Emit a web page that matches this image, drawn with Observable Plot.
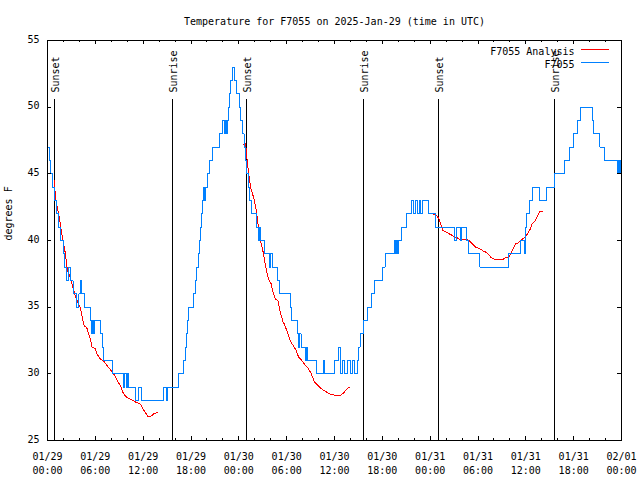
<!DOCTYPE html>
<html><head><meta charset="utf-8">
<script src="https://cdn.jsdelivr.net/npm/d3@7"></script>
<script src="https://cdn.jsdelivr.net/npm/@observablehq/plot@0.6"></script>
<style>body{margin:0;background:#fff}</style>
</head><body><div id="chart"></div>
<script>
const titleText = "Temperature for F7055 on 2025-Jan-29 (time in UTC)";
const yLabel = "degrees F";
const seriesNames = ["F7055 Analysis", "F7055"];
const seriesColors = ["#ff0000", "#0080ff"];
const startUTC = Date.UTC(2025, 0, 29);
const endHours = 72;

// Observed station temperature (hours since 01/29 00:00 UTC, °F), step changes
const blueHours = [0,0.2,0.4,0.6,0.85,1.1,1.35,1.65,1.95,2.1,2.35,2.6,2.85,3.2,3.6,3.95,4.1,4.3,4.6,5.35,5.55,5.7,5.8,5.95,6.6,6.9,7.0,8.1,9.55,9.7,9.9,10.05,10.2,11.05,11.45,11.75,14.5,14.95,15.1,16.4,17.05,17.25,17.4,17.55,17.7,18.35,18.55,18.75,18.95,19.1,19.25,19.35,19.45,19.55,19.75,19.85,20.1,20.35,20.75,21.55,22.0,22.15,22.3,22.45,22.55,22.65,22.85,23.0,23.15,23.45,23.65,24.05,24.25,24.45,24.65,24.85,25.0,25.2,25.4,25.65,26.2,26.45,26.6,26.75,27.2,27.8,27.95,28.2,28.85,29.15,30.45,30.6,31.35,31.5,31.65,31.8,32.3,32.45,32.6,33.75,34.6,34.75,35.95,36.55,36.7,36.95,37.3,37.6,37.95,38.25,38.55,38.85,39.0,39.2,39.6,40.2,40.6,41.0,42.05,42.35,43.5,43.6,43.8,43.95,44.05,44.4,45.0,45.6,45.95,46.15,46.4,46.65,46.85,47.1,47.8,48.65,51.1,51.35,51.75,51.9,52.55,52.8,54.25,57.8,59.3,59.85,59.95,60.1,60.5,60.85,61.7,62.55,63.55,64.8,65.45,65.95,66.45,66.9,68.3,68.55,69.3,69.85,71.5,71.65,71.75,71.9,72.0];
const blueTemps = [47,46,45,44,43,42,41,40,39,38,37,38,37,36,35,36,37,36,35,34,33,34,33,34,33,32,31,30,29,30,29,30,29,28,29,28,29,28,29,30,31,32,33,34,35,36,37,38,39,40,41,42,43,44,43,44,45,46,47,48,49,48,49,48,49,50,51,52,53,52,51,50,49,48,47,46,45,44,43,42,41,40,41,40,39,38,39,38,37,36,35,34,33,32,33,32,31,32,31,30,31,30,31,32,30,31,30,31,30,31,30,31,32,33,34,35,36,37,38,39,40,39,40,39,40,41,42,43,42,43,42,43,42,43,42,41,40,41,40,41,40,39,38,39,40,39,41,42,43,44,43,44,45,46,47,48,49,50,49,48,47,46,45,46,45,46,46];

// Analysis temperature (null = gap between nightly runs)
const redHours = [0.85,1.0,1.4,1.8,2.25,2.5,2.9,3.1,3.4,3.7,4.1,4.35,4.6,4.9,5.3,5.6,6.0,6.2,6.65,7.0,7.5,7.9,8.3,8.75,9.15,9.5,9.8,10.4,11.0,11.7,12.1,12.6,12.95,13.3,13.8,
  null,
  24.55,24.85,25.05,25.3,25.55,25.85,26.2,26.5,26.75,27.1,27.3,27.55,27.75,28.05,28.3,28.6,28.9,29.2,29.55,29.7,30.1,30.5,30.85,31.2,31.5,31.9,32.4,32.6,33.1,33.4,33.6,34.0,34.3,34.7,35.1,35.5,36.1,36.75,37.2,37.6,37.9,
  null,
  48.3,48.8,49.05,49.3,49.6,50.1,50.55,51.0,51.4,51.8,52.3,52.6,52.9,53.3,53.7,54.2,54.7,55.1,55.6,56.0,56.4,57.0,57.45,57.9,58.3,58.7,59.0,59.4,59.8,60.2,60.6,60.8,61.2,61.5,61.75,62.05];
const redTemps = [44.5,43.2,42.0,40.5,39.0,37.8,37.1,36.7,36.0,35.5,35.0,34.25,33.6,33.5,32.75,32.0,31.9,31.5,31.1,31.0,30.6,30.3,30.0,29.5,29.1,28.55,28.3,28.1,27.9,27.7,27.25,26.8,26.8,27.0,27.1,
  null,
  47.2,47.25,46.0,44.7,43.8,43.25,42.25,40.75,39.9,39.0,38.25,37.5,37.1,36.75,36.1,35.6,35.5,34.6,33.9,33.75,33.1,32.4,32.1,31.75,31.25,31.0,30.6,30.5,30.0,29.5,29.3,29.1,28.9,28.75,28.6,28.45,28.4,28.4,28.6,28.9,29.0,
  null,
  42.0,41.85,41.7,41.25,40.75,40.6,40.45,40.3,40.2,40.05,40.1,40.1,40.0,39.75,39.5,39.4,39.2,39.1,38.75,38.6,38.55,38.55,38.7,38.8,39.25,39.75,39.8,40.05,40.2,40.5,40.9,41.25,41.5,41.9,42.2,42.2];

const sunHours = [0.92, 15.72, 24.96, 39.68, 49.05, 63.63];
const sunLabels = ["Sunset", "Sunrise", "Sunset", "Sunrise", "Sunset", "Sunrise"];

const yTicks = [25, 30, 35, 40, 45, 50, 55];
const xMajorHours = [0, 6, 12, 18, 24, 30, 36, 42, 48, 54, 60, 66, 72];
const xMinorHours = d3.range(0, 73, 2);
const xTickLabels = ["01/29\n00:00","01/29\n06:00","01/29\n12:00","01/29\n18:00","01/30\n00:00","01/30\n06:00","01/30\n12:00","01/30\n18:00","01/31\n00:00","01/31\n06:00","01/31\n12:00","01/31\n18:00","02/01\n00:00"];

const toDate = h => h == null ? null : new Date(startUTC + h * 3600e3);
const blue = blueHours.map((h, i) => ({t: toDate(h), v: blueTemps[i]}));
const red = redHours.map((h, i) => ({t: toDate(h), v: redTemps[i] == null ? NaN : redTemps[i]}));
const sun = sunHours.map((h, i) => ({t: toDate(h), label: sunLabels[i]}));
const majorDates = xMajorHours.map(toDate);
const minorDates = xMinorHours.map(toDate);

const W = 640, H = 480, mL = 47, mR = 19, mT = 40, mB = 40;
const frameW = W - mL - mR, frameH = H - mT - mB;

const legendLines = (index, scales, values, dim) => {
  const g = d3.create("svg:g");
  const x2 = dim.width - dim.marginRight - 12;
  const x1 = x2 - 28;
  [[seriesColors[0], 9.5], [seriesColors[1], 22.5]].forEach(([c, dy]) => {
    g.append("line").attr("x1", x1).attr("x2", x2)
      .attr("y1", dim.marginTop + dy).attr("y2", dim.marginTop + dy)
      .attr("stroke", c).attr("stroke-width", 1).attr("shape-rendering", "crispEdges");
  });
  return g.node();
};

const chart = Plot.plot({
  width: W, height: H,
  marginLeft: mL, marginRight: mR, marginTop: mT, marginBottom: mB,
  style: {fontFamily: "'DejaVu Sans Mono', monospace", fontSize: "10px", background: "white", color: "black"},
  x: {type: "utc", domain: [toDate(0), toDate(endHours)], axis: null},
  y: {domain: [25, 55], axis: null},
  marks: [
    Plot.ruleX(sun, {x: "t", insetTop: 59, stroke: "black", shapeRendering: "crispEdges"}),
    Plot.text(sun, {x: "t", text: "label", frameAnchor: "top", dy: 52, dx: -3, rotate: -90, textAnchor: "start", fill: "black"}),
    Plot.line(red, {x: "t", y: "v", stroke: seriesColors[0], strokeWidth: 1, shapeRendering: "crispEdges"}),
    Plot.line(blue, {x: "t", y: "v", curve: "step-after", stroke: seriesColors[1], strokeWidth: 1, shapeRendering: "crispEdges"}),
    Plot.frame({stroke: "black", shapeRendering: "crispEdges"}),
    Plot.tickX(majorDates, {x: d => d, insetTop: frameH - 4, stroke: "black", shapeRendering: "crispEdges"}),
    Plot.tickX(majorDates, {x: d => d, insetBottom: frameH - 4, stroke: "black", shapeRendering: "crispEdges"}),
    Plot.tickX(minorDates, {x: d => d, insetTop: frameH - 2, stroke: "black", shapeRendering: "crispEdges"}),
    Plot.tickX(minorDates, {x: d => d, insetBottom: frameH - 2, stroke: "black", shapeRendering: "crispEdges"}),
    Plot.tickY(yTicks, {y: d => d, insetRight: frameW - 4, stroke: "black", shapeRendering: "crispEdges"}),
    Plot.tickY(yTicks, {y: d => d, insetLeft: frameW - 4, stroke: "black", shapeRendering: "crispEdges"}),
    Plot.text(majorDates, {x: d => d, text: (d, i) => xTickLabels[i], frameAnchor: "bottom", lineAnchor: "top", dy: 10, lineHeight: 1.4, fill: "black"}),
    Plot.text(yTicks, {y: d => d, text: d => String(d), frameAnchor: "left", textAnchor: "end", dx: -8, dy: -1, fill: "black"}),
    Plot.text([titleText], {text: d => d, frameAnchor: "top", dy: -23, fill: "black"}),
    Plot.text([yLabel], {text: d => d, frameAnchor: "left", rotate: -90, dx: -39, fill: "black"}),
    Plot.text([seriesNames[0]], {text: d => d, frameAnchor: "top-right", textAnchor: "end", dx: -47, dy: 7.5, fill: "black"}),
    Plot.text([seriesNames[1]], {text: d => d, frameAnchor: "top-right", textAnchor: "end", dx: -47, dy: 20.5, fill: "black"}),
    legendLines
  ]
});
document.getElementById("chart").append(chart);
</script>
</body></html>
